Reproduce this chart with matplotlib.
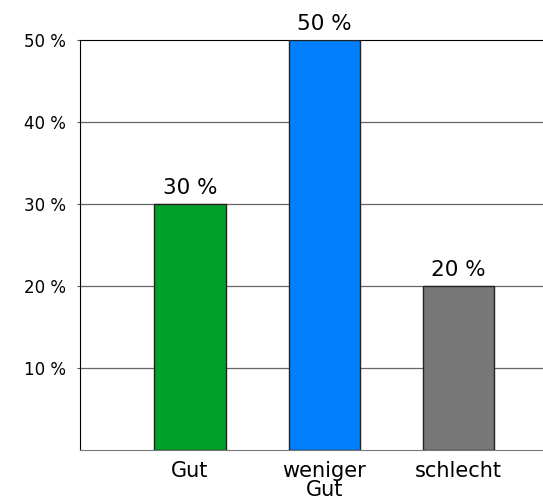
import matplotlib
matplotlib.use("Agg")
import matplotlib.pyplot as plt
import numpy as np

plt.rcParams['font.family'] = ['DejaVu Sans']

# --- Data ---
categories = ['Gut', 'weniger\nGut', 'schlecht']
values = [30, 50, 20]
colors = ['#00a02c', '#0080ff', '#787878']
ytick_vals = [10, 20, 30, 40, 50]

fig = plt.figure(figsize=(5.43, 5.04), dpi=100)
ax = fig.add_axes([0.1473, 0.107, 0.8527, 0.8135])

x = np.arange(len(categories))
bars = ax.bar(x, values, width=0.53, color=colors, edgecolor='#222222', linewidth=1, zorder=3)

for b, v in zip(bars, values):
    ax.text(b.get_x() + b.get_width() / 2, v + 0.7, f'{v} %', ha='center', va='bottom',
            fontsize=15.5, clip_on=False)

ax.set_xlim(-0.82, 2.63)
ax.set_ylim(0, 50)
ax.set_yticks(ytick_vals)
ax.set_yticklabels([f'{v} %' for v in ytick_vals], fontsize=12)
ax.set_xticks(x)
ax.set_xticklabels(categories, fontsize=15, linespacing=0.95)
ax.tick_params(axis='x', length=0, pad=8)
ax.tick_params(axis='y', length=2, pad=8, color='#555555')

for v in ytick_vals[:-1]:
    ax.axhline(v, color='#666666', linewidth=0.9, zorder=1)

ax.spines['right'].set_visible(False)
ax.spines['top'].set_color('black')
ax.spines['left'].set_color('black')
ax.spines['bottom'].set_color('#777777')

fig.savefig('out.png', dpi=100)
